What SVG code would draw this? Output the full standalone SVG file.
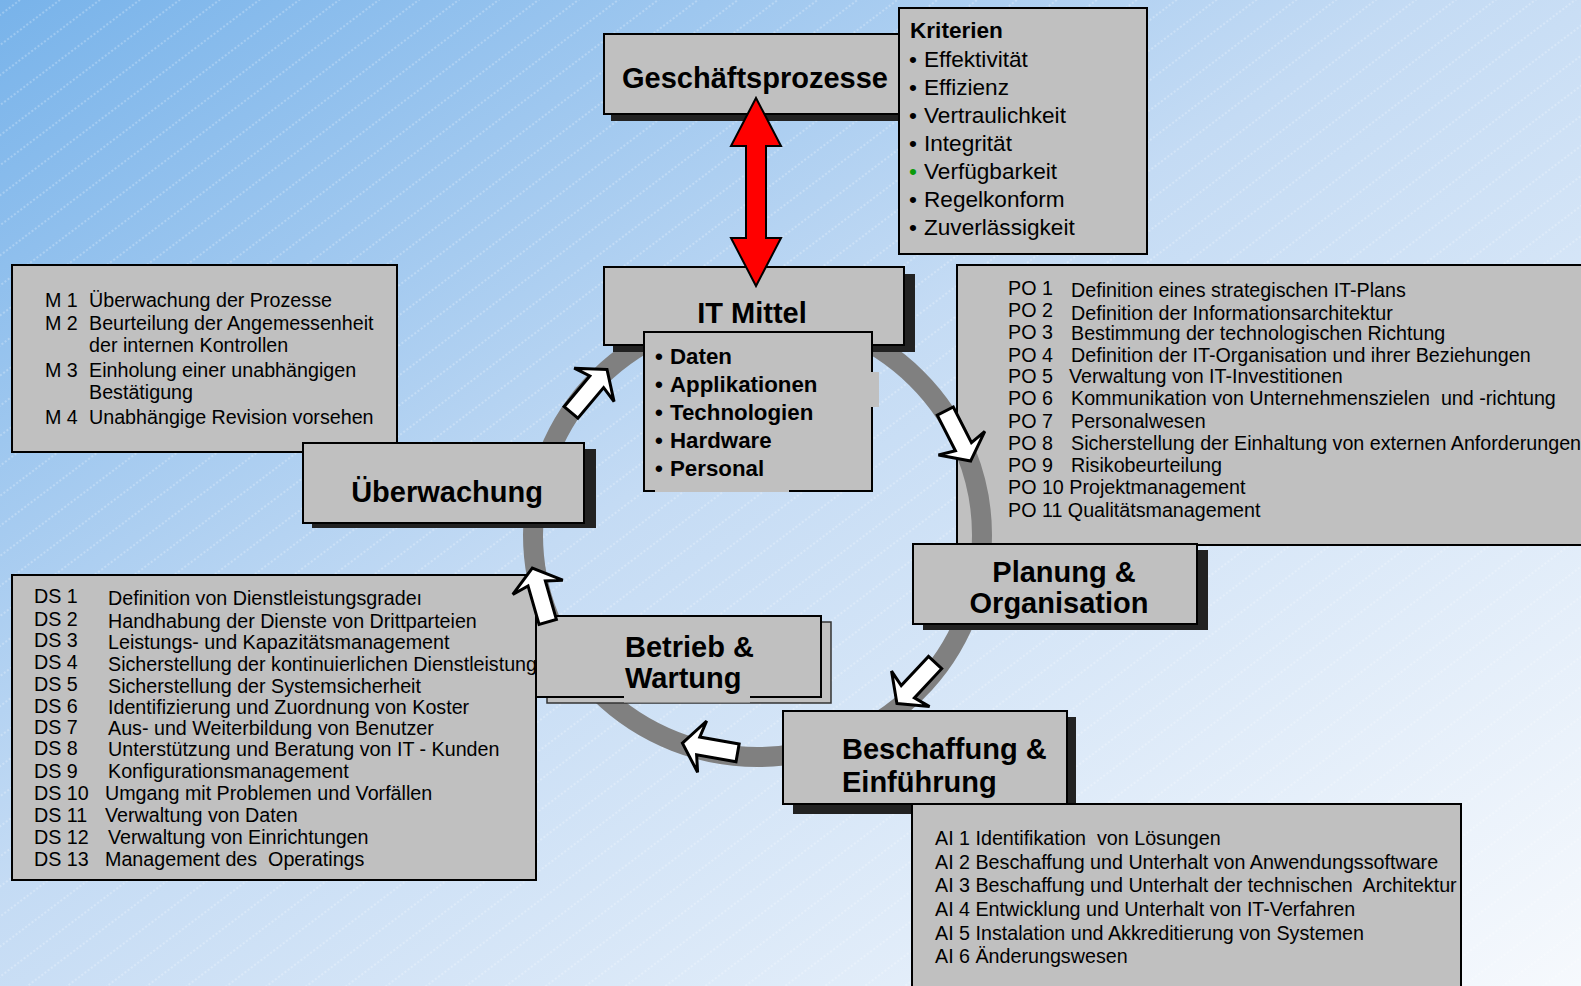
<svg xmlns="http://www.w3.org/2000/svg" width="1581" height="986" viewBox="0 0 1581 986">
  <defs>
    <linearGradient id="bgGrad" x1="0" y1="0" x2="1" y2="1">
      <stop offset="0" stop-color="#78b3ea"/>
      <stop offset="0.45" stop-color="#c4dbf4"/>
      <stop offset="1" stop-color="#f6f9fd"/>
    </linearGradient>
    <pattern id="hatch" width="24" height="24" patternUnits="userSpaceOnUse" patternTransform="rotate(53)">
      <line x1="12" y1="0" x2="12" y2="24" stroke="#ffffff" stroke-width="1" stroke-dasharray="2 2" opacity="0.5"/>
    </pattern>
    <clipPath id="dsClip">
      <rect x="12" y="575" width="523" height="305"/>
    </clipPath>
    <!-- white block arrow pointing along +x, tip at origin -->
    <path id="flowArrow" d="M0,0 L-20,-26 L-16,-9 L-56,-9 L-56,9 L-16,9 L-20,26 Z"/>
  </defs>
  <style>
    .box { fill: #c0c0c0; stroke: #000; stroke-width: 2; }
    .back { fill: #c0c0c0; stroke: #333; stroke-width: 1.5; }
    .shadow { fill: #222; }
    .patch { fill: #c0c0c0; }
    text { font-family: "Liberation Sans", Arial, sans-serif; fill: #000; white-space: pre; }
    .title { font-size: 29px; font-weight: bold; }
    .crit { font-size: 22.6px; }
    .res { font-size: 22.3px; font-weight: bold; }
    .item { font-size: 19.7px; }
    .ring { fill: none; stroke: #808080; stroke-width: 20; }
    .flow { fill: #fff; stroke: #000; stroke-width: 3; stroke-linejoin: miter; }
    .link { fill: #ff0000; stroke: #000; stroke-width: 2; }
  </style>

  <!-- background -->
  <rect x="0" y="0" width="1581" height="986" fill="url(#bgGrad)"/>
  <rect x="0" y="0" width="1581" height="986" fill="url(#hatch)"/>

  <!-- process lists -->
  <g id="list-m">
    <rect class="box" x="12" y="265" width="385" height="187"/>
    <g class="item">
      <text x="45" y="307">M 1</text><text x="89" y="307">Überwachung der Prozesse</text>
      <text x="45" y="329.5">M 2</text><text x="89" y="329.5">Beurteilung der Angemessenheit</text>
      <text x="89" y="351.5">der internen Kontrollen</text>
      <text x="45" y="377">M 3</text><text x="89" y="377">Einholung einer unabhängigen</text>
      <text x="89" y="399">Bestätigung</text>
      <text x="45" y="424">M 4</text><text x="89" y="424">Unabhängige Revision vorsehen</text>
    </g>
  </g>

  <g id="list-ds">
    <rect class="box" x="12" y="575" width="524" height="305"/>
    <g class="item" clip-path="url(#dsClip)">
      <text x="34" y="603">DS 1</text><text x="108" y="605">Definition von Dienstleistungsgradeı</text>
      <text x="34" y="626">DS 2</text><text x="108" y="628">Handhabung der Dienste von Drittparteien</text>
      <text x="34" y="647">DS 3</text><text x="108" y="649">Leistungs- und Kapazitätsmanagement</text>
      <text x="34" y="669">DS 4</text><text x="108" y="670.5">Sicherstellung der kontinuierlichen Dienstleistung</text>
      <text x="34" y="691">DS 5</text><text x="108" y="692.5">Sicherstellung der Systemsicherheit</text>
      <text x="34" y="713">DS 6</text><text x="108" y="714">Identifizierung und Zuordnung von Koster</text>
      <text x="34" y="734">DS 7</text><text x="108" y="735">Aus- und Weiterbildung von Benutzer</text>
      <text x="34" y="755">DS 8</text><text x="108" y="756">Unterstützung und Beratung von IT - Kunden</text>
      <text x="34" y="778">DS 9</text><text x="108" y="778">Konfigurationsmanagement</text>
      <text x="34" y="799.5">DS 10</text><text x="105" y="799.5">Umgang mit Problemen und Vorfällen</text>
      <text x="34" y="821.5">DS 11</text><text x="105" y="821.5">Verwaltung von Daten</text>
      <text x="34" y="844">DS 12</text><text x="108" y="844">Verwaltung von Einrichtungen</text>
      <text x="34" y="866">DS 13</text><text x="105" y="866">Management des  Operatings</text>
    </g>
  </g>

  <g id="list-po">
    <rect class="box" x="957" y="265" width="640" height="280"/>
    <g class="item">
      <text x="1008" y="295">PO 1</text><text x="1071" y="297">Definition eines strategischen IT-Plans</text>
      <text x="1008" y="317">PO 2</text><text x="1071" y="319.5">Definition der Informationsarchitektur</text>
      <text x="1008" y="339">PO 3</text><text x="1071" y="339.5">Bestimmung der technologischen Richtung</text>
      <text x="1008" y="362">PO 4</text><text x="1071" y="362">Definition der IT-Organisation und ihrer Beziehungen</text>
      <text x="1008" y="383">PO 5</text><text x="1069" y="383">Verwaltung von IT-Investitionen</text>
      <text x="1008" y="405">PO 6</text><text x="1071" y="405">Kommunikation von Unternehmenszielen  und -richtung</text>
      <text x="1008" y="427.5">PO 7</text><text x="1071" y="427.5">Personalwesen</text>
      <text x="1008" y="449.5">PO 8</text><text x="1071" y="449.5">Sicherstellung der Einhaltung von externen Anforderungen</text>
      <text x="1008" y="471.5">PO 9</text><text x="1071" y="471.5">Risikobeurteilung</text>
      <text x="1008" y="494">PO 10 Projektmanagement</text>
      <text x="1008" y="517">PO 11 Qualitätsmanagement</text>
    </g>
  </g>

  <!-- control cycle ring -->
  <g id="cycle-ring">
    <ellipse class="ring" cx="757.5" cy="535" rx="224.5" ry="222"/>
  </g>

  <!-- business processes and criteria -->
  <g id="node-geschaeftsprozesse">
    <rect class="shadow" x="611" y="41" width="296" height="80"/>
    <rect class="box" x="604" y="34" width="296" height="80"/>
    <text class="title" x="755" y="88" text-anchor="middle">Geschäftsprozesse</text>
  </g>

  <g id="node-kriterien">
    <rect class="box" x="899" y="8" width="248" height="246"/>
    <text class="crit" x="910" y="38" font-weight="bold">Kriterien</text>
    <g class="crit">
      <text x="913" y="66.5" text-anchor="middle">•</text><text x="924" y="66.5">Effektivität</text>
      <text x="913" y="94.5" text-anchor="middle">•</text><text x="924" y="94.5">Effizienz</text>
      <text x="913" y="123" text-anchor="middle">•</text><text x="924" y="123">Vertraulichkeit</text>
      <text x="913" y="151" text-anchor="middle">•</text><text x="924" y="151">Integrität</text>
      <text x="913" y="179" text-anchor="middle" style="fill:#0a9a0a">•</text><text x="924" y="179">Verfügbarkeit</text>
      <text x="913" y="207" text-anchor="middle">•</text><text x="924" y="207">Regelkonform</text>
      <text x="913" y="235" text-anchor="middle">•</text><text x="924" y="235">Zuverlässigkeit</text>
    </g>
  </g>

  <!-- IT resources -->
  <g id="node-it-mittel">
    <rect class="shadow" x="613" y="274" width="302" height="78"/>
    <rect class="box" x="604" y="267" width="300" height="78"/>
    <text class="title" x="752" y="323" text-anchor="middle">IT Mittel</text>
    <rect class="box" x="644" y="332" width="228" height="159"/>
    <rect class="patch" x="655" y="478" width="134" height="14"/>
    <rect class="patch" x="871" y="372" width="8" height="35"/>
    <g class="res">
      <text x="659" y="364" text-anchor="middle">•</text><text x="670" y="364">Daten</text>
      <text x="659" y="392" text-anchor="middle">•</text><text x="670" y="392">Applikationen</text>
      <text x="659" y="420" text-anchor="middle">•</text><text x="670" y="420">Technologien</text>
      <text x="659" y="448" text-anchor="middle">•</text><text x="670" y="448">Hardware</text>
      <text x="659" y="476" text-anchor="middle">•</text><text x="670" y="476">Personal</text>
    </g>
  </g>

  <!-- phase boxes -->
  <g id="node-ueberwachung">
    <rect class="shadow" x="312" y="449" width="284" height="79"/>
    <rect class="box" x="303" y="443" width="281" height="80"/>
    <text class="title" x="447" y="502" text-anchor="middle">Überwachung</text>
  </g>

  <g id="node-betrieb">
    <rect class="back" x="547" y="622" width="284" height="81"/>
    <rect class="box" x="536" y="616" width="285" height="81"/>
    <rect class="patch" x="624" y="660" width="126" height="42.5"/>
    <text class="title" x="625" y="657">Betrieb &amp;</text>
    <text class="title" x="625" y="688">Wartung</text>
  </g>

  <g id="node-planung">
    <rect class="shadow" x="923" y="550" width="285" height="80"/>
    <rect class="box" x="913" y="544" width="284" height="80"/>
    <text class="title" x="1064" y="582" text-anchor="middle">Planung &amp;</text>
    <text class="title" x="1059" y="613" text-anchor="middle">Organisation</text>
  </g>

  <g id="node-beschaffung">
    <rect class="shadow" x="793" y="717" width="283" height="97"/>
    <rect class="box" x="783" y="711" width="284" height="93"/>
    <text class="title" x="842" y="759">Beschaffung &amp;</text>
    <text class="title" x="842" y="792">Einführung</text>
  </g>

  <g id="list-ai">
    <rect class="box" x="912" y="804" width="549" height="200"/>
    <g class="item">
      <text x="935" y="845">AI 1 Identifikation  von Lösungen</text>
      <text x="935" y="869">AI 2 Beschaffung und Unterhalt von Anwendungssoftware</text>
      <text x="935" y="892">AI 3 Beschaffung und Unterhalt der technischen  Architektur</text>
      <text x="935" y="915.5">AI 4 Entwicklung und Unterhalt von IT-Verfahren</text>
      <text x="935" y="939.5">AI 5 Instalation und Akkreditierung von Systemen</text>
      <text x="935" y="963">AI 6 Änderungswesen</text>
    </g>
  </g>

  <!-- connectors -->
  <g id="connectors">
    <use href="#flowArrow" class="flow" transform="translate(589,391) rotate(-50) translate(28,0)"/>
    <use href="#flowArrow" class="flow" transform="translate(958,436) rotate(63) translate(28,0)"/>
    <use href="#flowArrow" class="flow" transform="translate(916,683) rotate(133) translate(28,0)"/>
    <use href="#flowArrow" class="flow" transform="translate(710,748) rotate(190) translate(28,0)"/>
    <use href="#flowArrow" class="flow" transform="translate(540,595) rotate(254) translate(28,0)"/>
    <polygon class="link" points="756,98 781,146 766,146 766,238 781,238 756,286 731,238 746,238 746,146 731,146"/>
  </g>
</svg>
